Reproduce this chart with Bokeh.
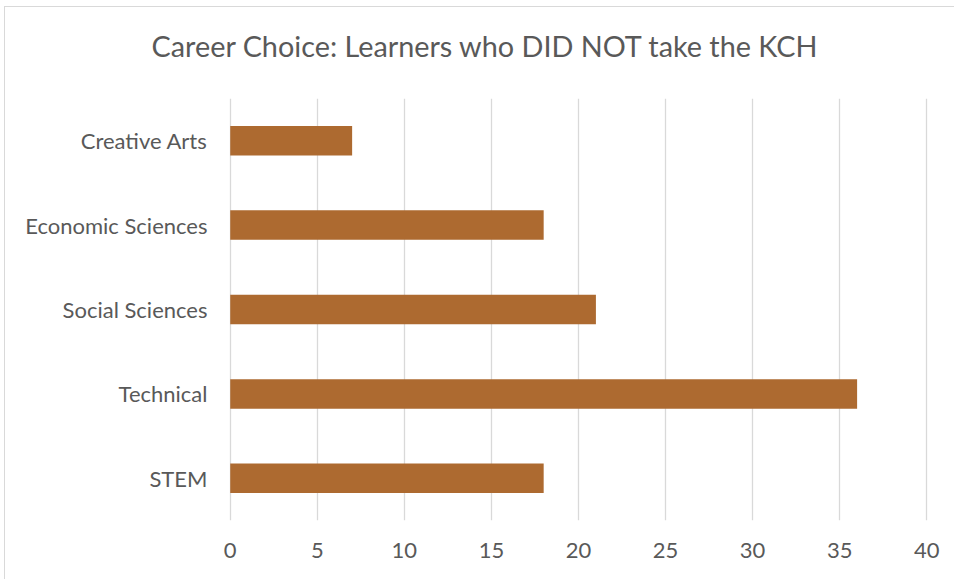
from bokeh.plotting import figure
from bokeh.layouts import column
from bokeh.models import FixedTicker
from bokeh.core.properties import value
from bokeh.embed import file_html
from bokeh.resources import INLINE

categories = ["STEM", "Technical", "Social Sciences", "Economic Sciences", "Creative Arts"]
values = [18, 36, 21, 18, 7]
x_ticks = [0, 5, 10, 15, 20, 25, 30, 35, 40]
title_text = "Career Choice: Learners who DID NOT take the KCH"

W = 949          # page width minus left margin/border
TH = 91          # height of the title strip
PH = 572 - TH    # height of the chart
FL, FR, FB = 223, 26, 59

# title strip (pixel-sized ranges so the title sits where the chart's title sits)
t = figure(width=W, height=TH, x_range=(0, W), y_range=(0, TH),
           output_backend="svg", toolbar_location=None,
           x_axis_location=None, y_axis_location=None, min_border=0)
t.frame_align = False
t.grid.grid_line_color = None
t.outline_line_color = None
t.text(x=[480], y=[TH - 38], text=[title_text], text_align="center", text_baseline="middle",
       text_font=value("Lato"), text_font_size="28.8px", text_color="#595959")

p = figure(width=W, height=PH, y_range=categories, x_range=(-0.1, 40.1),
           output_backend="svg", toolbar_location=None,
           min_border_left=FL, min_border_right=FR, min_border_top=0, min_border_bottom=FB)
p.frame_align = False
p.outline_line_color = None
p.background_fill_color = "white"
p.border_fill_color = "white"

p.hbar(y=categories, right=values, left=0, height=0.35, fill_color="#AD6A30", line_color=None)

p.xaxis.ticker = FixedTicker(ticks=x_ticks)
p.xgrid.ticker = FixedTicker(ticks=x_ticks)
p.xgrid.grid_line_color = "#D9D9D9"
p.xgrid.grid_line_width = 1.3
p.ygrid.grid_line_color = None
for ax in (p.xaxis, p.yaxis):
    ax.axis_line_color = None
    ax.major_tick_line_color = None
    ax.minor_tick_line_color = None
    ax.major_label_text_font = "Lato"
    ax.major_label_text_color = "#595959"
    ax.major_label_text_font_size = "22px"
p.xaxis.major_label_standoff = 16
p.yaxis.major_label_standoff = 15

layout = column(t, p, spacing=0)
layout.styles = {"margin-left": "4px", "margin-top": "6px",
                 "border-left": "1px solid #D9D9D9", "border-top": "1px solid #D9D9D9"}

open("out.html", "w").write(file_html(layout, INLINE))
